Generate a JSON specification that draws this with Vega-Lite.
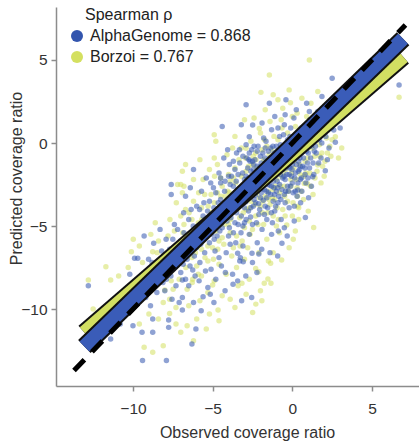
{
  "$schema": "https://vega.github.io/schema/vega-lite/v6.json",
  "width": 363,
  "height": 379,
  "autosize": "none",
  "padding": {"left": 56, "top": 7, "right": 0, "bottom": 58},
  "title": {
    "text": "Spearman ρ",
    "anchor": "start",
    "frame": "group",
    "orient": "top",
    "offset": 0,
    "baseline": "top",
    "dx": 29,
    "dy": 20.5,
    "font": "Liberation Sans",
    "fontSize": 16,
    "fontWeight": "normal",
    "color": "#222222"
  },
  "config": {
    "view": {"stroke": null},
    "font": "Liberation Sans",
    "axis": {
      "grid": false,
      "domainColor": "#8c8c8c",
      "domainWidth": 1.5,
      "tickColor": "#8c8c8c",
      "tickWidth": 1.5,
      "tickSize": 5,
      "labelFont": "Liberation Sans",
      "labelFontSize": 15.5,
      "labelColor": "#333333",
      "titleFont": "Liberation Sans",
      "titleFontSize": 16,
      "titleFontWeight": "normal",
      "titleColor": "#333333"
    }
  },
  "layer": [
    {
      "data": {
        "values": "model,x,y\nB,-4.9,0.5\nB,-4.8,0.1\nB,-4.9,-0.9\nB,-6.7,-1.3\nB,-6.9,-1.7\nB,-7.2,-2.5\nB,-7.0,-2.5\nB,-6.9,-3.0\nB,1.07,5.0\nB,-1.44,4.1\nB,6.7,2.75\nB,-1.97,3.05\nB,-0.12,2.43\nB,1.6,3.1\nB,1.17,2.4\nB,2.7,0.38\nB,1.6,-1.33\nB,0.75,-2.43\nB,0.95,-2.45\nB,-2.9,-0.32\nB,-2.07,0.88\nB,0.34,-3.8\nB,1.34,-5.08\nB,0.19,-5.3\nB,0.06,-5.8\nB,-0.35,-4.94\nB,-0.67,-7.05\nB,-1.5,-7.1\nB,-1.36,-7.24\nB,-2.3,-7.55\nB,-2.1,-7.75\nB,-1.53,-8.19\nB,-1.76,-8.45\nB,-1.34,-8.45\nB,-3.16,-8.45\nB,-1.91,-9.5\nB,-2.29,-9.7\nB,-2.49,-10.2\nB,-9.98,-5.8\nB,-10.1,-6.55\nB,-8.76,-6.55\nB,-11.7,-7.45\nB,-12.8,-8.25\nB,-11.4,-8.25\nB,-12.5,-10.0\nB,-9.3,-12.3\nB,-8.76,-12.6\nB,-8.1,-12.2\nB,-6.2,-11.9\nB,-7.0,-11.4\nB,-7.7,-10.26\nB,-4.66,-10.05\nB,-4.6,-10.7\nB,-5.8,-9.5\nB,-7.7,-9.4\nB,-5.3,-9.0\nB,-5.0,-8.55\nB,-8.0,-8.85\nB,-7.7,-7.65\nB,-6.25,-8.2\nB,-5.7,-8.0\nB,-8.7,-7.9\nB,-8.4,-5.9\nB,-8.1,-9.6\nB,-7.9,-6.8\nB,-7.6,-8.3\nB,-7.4,-5.3\nB,-7.2,-7.2\nB,-7.0,-4.4\nB,-8.6,-4.8\nB,-7.3,-9.9\nB,-6.9,-6.1\nB,-6.7,-4.0\nB,-6.6,-8.8\nB,-6.4,-5.5\nB,-6.2,-3.5\nB,-6.0,-7.4\nB,-5.9,-4.8\nB,-5.7,-6.4\nB,-5.5,-3.1\nB,-5.4,-5.6\nB,-5.3,-7.1\nB,-5.1,-4.2\nB,-6.8,-2.6\nB,-6.3,-6.9\nB,-5.6,-2.2\nB,-5.0,-6.3\nB,-6.5,-9.8\nB,-5.2,-1.6\nB,-4.9,-3.6\nB,-4.8,-5.3\nB,-4.7,-1.3\nB,-4.6,-7.3\nB,-4.5,-4.4\nB,-4.4,-2.6\nB,-4.3,-6.1\nB,-4.2,-3.2\nB,-4.1,-0.7\nB,-4.0,-4.9\nB,-3.9,-2.3\nB,-3.8,-6.8\nB,-3.7,-3.8\nB,-3.6,-1.5\nB,-3.5,-5.6\nB,-3.4,-2.9\nB,-3.3,-4.5\nB,-3.2,-0.3\nB,-3.1,-3.3\nB,-3.0,-5.1\nB,-4.7,-3.0\nB,-4.4,-5.7\nB,-4.0,-1.9\nB,-3.8,-4.1\nB,-3.5,-7.5\nB,-3.2,-2.0\nB,-4.9,-8.3\nB,-3.6,0.4\nB,-2.9,-1.7\nB,-2.9,-4.0\nB,-2.8,-6.3\nB,-2.7,-2.6\nB,-2.6,0.1\nB,-2.6,-3.5\nB,-2.5,-1.3\nB,-2.5,-5.2\nB,-2.4,-2.2\nB,-2.3,-4.4\nB,-2.3,-0.6\nB,-2.2,-3.0\nB,-2.1,-6.6\nB,-2.1,-1.8\nB,-2.0,-3.8\nB,-2.0,0.6\nB,-1.9,-2.5\nB,-1.8,-4.9\nB,-1.8,-1.0\nB,-1.7,-3.2\nB,-1.6,-0.2\nB,-1.6,-5.8\nB,-1.5,-2.0\nB,-1.4,-3.7\nB,-1.4,1.3\nB,-1.3,-1.4\nB,-1.2,-2.8\nB,-1.2,-4.4\nB,-1.1,-0.7\nB,-1.0,-2.2\nB,-1.0,-5.0\nB,-2.7,-4.7\nB,-2.2,-2.1\nB,-1.9,-0.4\nB,-1.5,-2.9\nB,-1.1,-3.4\nB,-2.4,1.5\nB,-1.7,2.0\nB,-0.9,-1.3\nB,-0.9,0.2\nB,-0.8,-3.0\nB,-0.7,-2.0\nB,-0.7,1.4\nB,-0.6,-4.0\nB,-0.5,-0.5\nB,-0.5,-2.6\nB,-0.4,-1.6\nB,-0.3,0.6\nB,-0.3,-3.5\nB,-0.2,-1.0\nB,-0.1,-2.2\nB,0.0,-0.2\nB,0.0,-4.4\nB,0.1,-1.5\nB,0.2,1.0\nB,0.3,-2.7\nB,0.4,-0.7\nB,0.5,-1.9\nB,0.6,0.4\nB,0.7,-3.4\nB,0.8,-1.1\nB,0.9,1.6\nB,1.0,-0.3\nB,-0.6,2.1\nB,0.4,-3.9\nB,-0.2,-6.3\nB,1.1,-1.8\nB,1.2,0.6\nB,1.4,-0.8\nB,1.5,1.3\nB,1.7,-0.1\nB,1.9,-1.4\nB,2.0,0.9\nB,2.2,-0.6\nB,2.5,0.2\nB,2.6,1.7\nB,1.3,-3.1\nB,2.9,-0.9\nB,1.8,-2.4\nB,3.1,-0.3\nB,-3.95,-3.0\nB,-3.75,-0.3\nB,-3.55,-2.4\nB,-3.45,-4.0\nB,-3.35,-1.0\nB,-3.15,-5.9\nB,-3.05,-2.5\nB,-2.95,-0.9\nB,-2.85,-3.3\nB,-2.75,-1.4\nB,-2.65,-5.5\nB,-2.55,-2.9\nB,-2.45,-0.8\nB,-2.35,-3.7\nB,-2.25,-1.5\nB,-2.15,-4.9\nB,-2.05,-2.7\nB,-1.95,-1.6\nB,-1.85,-3.5\nB,-1.75,0.2\nB,-1.65,-2.4\nB,-1.55,-4.2\nB,-1.45,-0.7\nB,-1.35,-2.2\nB,-1.25,-3.3\nB,-1.15,0.4\nB,-1.05,-1.4\nB,-0.95,-3.9\nB,-0.85,-0.6\nB,-0.75,-2.6\nB,-0.65,0.9\nB,-0.55,-1.8\nB,-0.45,-4.4\nB,-0.35,-1.2\nB,-0.25,-2.9\nB,-0.15,0.1\nB,-0.05,-1.8\nB,0.05,-3.6\nB,0.15,-0.7\nB,0.25,-2.2\nB,0.35,0.5\nB,0.45,-1.3\nB,0.55,-2.9\nB,0.65,-0.4\nB,0.75,0.8\nB,0.85,-1.8\nB,0.95,-0.9\nB,1.05,1.2\nB,1.15,-2.6\nB,1.25,-0.3\nB,1.35,0.8\nB,1.55,-1.7\nB,1.65,0.4\nB,1.85,-0.6\nB,2.05,-1.1\nB,2.15,0.3\nB,2.35,-0.2\nB,0.3,1.8\nB,-0.9,2.6\nB,-0.2,3.2\nB,0.6,2.7\nB,2.2,1.6\nB,-7.8,-5.6\nB,-7.5,-7.0\nB,-7.1,-8.2\nB,-6.8,-4.9\nB,-6.5,-6.6\nB,-6.3,-4.6\nB,-6.1,-5.8\nB,-5.9,-7.9\nB,-5.7,-3.9\nB,-5.5,-5.0\nB,-5.3,-6.2\nB,-5.1,-3.1\nB,-4.95,-7.0\nB,-4.85,-4.6\nB,-4.6,-5.9\nB,-4.5,-2.1\nB,-4.3,-4.0\nB,-4.15,-7.9\nB,-4.05,-2.9\nB,-3.9,-5.4\nB,-3.7,-6.3\nB,-8.3,-7.0\nB,-8.9,-8.6\nB,-9.4,-7.2\nB,-9.0,-10.3\nB,-10.6,-9.2\nB,-6.0,-10.6\nB,-5.4,-11.2\nB,-3.9,-9.4\nB,-3.4,-8.6\nB,-3.0,-7.0\nB,-2.7,-8.2\nB,-2.88,-2.2\nB,-2.68,-3.9\nB,-2.48,-2.5\nB,-2.28,-1.0\nB,-2.08,-3.3\nB,-1.88,-4.2\nB,-1.68,-1.3\nB,-1.48,-3.4\nB,-1.28,-0.4\nB,-1.08,-2.6\nB,-0.88,-4.6\nB,-0.68,-1.1\nB,-0.48,-3.2\nB,-0.28,-0.2\nB,-0.08,-2.6\nB,0.12,-1.1\nB,0.32,-3.2\nB,0.52,0.1\nB,0.72,-2.0\nB,0.92,-0.1\nB,1.12,0.2\nB,1.42,-2.1\nB,1.72,-0.8\nB,1.92,0.6\nB,2.42,-0.8\nB,-3.88,-4.6\nB,-3.68,-2.1\nB,-3.48,-3.2\nB,-3.28,-6.2\nB,-3.08,-4.2\nB,-4.28,-4.9\nB,-4.48,-3.2\nB,-4.68,-6.4\nB,-4.88,-2.0\nB,-5.08,-5.2\nB,-5.28,-3.8\nB,-5.48,-6.9\nB,-5.68,-4.6\nB,-5.88,-3.0\nB,-6.08,-6.6\nB,-6.28,-8.4\nB,-6.48,-4.2\nB,-6.68,-7.5\nB,-6.88,-5.4\nB,-7.08,-6.5\nB,-7.28,-3.6\nB,-7.48,-8.8\nB,-7.68,-4.6\nB,-8.08,-7.6\nB,-8.48,-6.6\nB,-8.88,-5.5\nB,-9.2,-8.0\nB,-9.6,-6.2\nB,-10.3,-7.5\nB,-10.9,-8.0\nB,-11.2,-9.6\nB,-9.6,-10.9\nB,-8.4,-10.6\nB,-7.3,-10.9\nB,-6.6,-11.0\nB,-5.2,-10.3\nB,-4.4,-9.2\nB,-3.6,-9.9\nB,-2.9,-9.1\nB,-2.0,-8.9\nB,-1.2,-6.6\nB,-0.8,-5.4\nB,0.4,-4.6\nB,1.0,-4.1\nB,2.0,-2.0\nB,-3.0,1.4\nB,-1.2,2.9\nB,0.0,1.6\nB,-5.8,-1.0\nB,-6.2,-2.2\nA,-7.6,-2.5\nA,-7.6,-3.1\nA,-6.2,-1.6\nA,-4.06,-0.4\nA,2.5,3.9\nA,6.7,3.5\nA,-1.44,2.4\nA,1.86,2.8\nA,1.07,1.9\nA,2.7,0.04\nA,2.6,0.78\nA,2.07,-1.67\nA,1.28,-2.03\nA,0.34,-2.83\nA,-2.7,0.38\nA,-2.49,1.08\nA,0.13,-3.8\nA,0.82,-4.48\nA,-0.65,-6.04\nA,-0.88,-5.3\nA,-2.1,-6.68\nA,-2.53,-6.64\nA,-3.43,-8.3\nA,-2.55,-9.3\nA,-3.18,-9.5\nA,-3.08,-7.15\nA,-3.26,-6.9\nA,-3.43,-6.64\nA,-8.7,-6.04\nA,-9.9,-6.94\nA,-9.7,-6.94\nA,-12.8,-8.6\nA,-10.0,-11.0\nA,-9.43,-11.4\nA,-8.76,-11.4\nA,-11.4,-11.8\nA,-9.4,-13.1\nA,-7.9,-13.1\nA,-6.3,-12.1\nA,-7.76,-11.1\nA,-8.76,-10.6\nA,-6.9,-10.05\nA,-7.76,-10.66\nA,-6.05,-11.2\nA,-6.2,-9.6\nA,-6.9,-9.3\nA,-7.1,-9.6\nA,-5.6,-9.25\nA,-4.8,-8.2\nA,-6.5,-8.6\nA,-7.9,-8.2\nA,-6.9,-8.25\nA,-6.25,-7.65\nA,-5.4,-2.1\nA,-4.5,-2.1\nA,-3.95,-1.3\nA,-8.8,-7.2\nA,-8.5,-9.0\nA,-8.2,-6.5\nA,-8.0,-8.9\nA,-7.8,-7.4\nA,-7.5,-5.8\nA,-7.3,-8.6\nA,-7.1,-6.9\nA,-8.9,-9.8\nA,-7.4,-4.9\nA,-8.3,-5.2\nA,-7.0,-7.8\nA,-6.8,-5.4\nA,-6.6,-7.0\nA,-6.5,-4.6\nA,-6.3,-6.2\nA,-6.1,-8.0\nA,-6.0,-3.8\nA,-5.9,-5.9\nA,-5.8,-7.2\nA,-5.6,-4.4\nA,-5.5,-6.6\nA,-5.4,-5.2\nA,-5.3,-8.7\nA,-5.2,-3.5\nA,-5.1,-7.6\nA,-5.0,-4.9\nA,-6.7,-3.2\nA,-6.4,-2.7\nA,-5.7,-2.9\nA,-5.2,-6.0\nA,-6.9,-6.3\nA,-4.9,-5.8\nA,-4.8,-3.0\nA,-4.7,-4.3\nA,-4.6,-6.9\nA,-4.5,-2.4\nA,-4.4,-5.1\nA,-4.3,-3.7\nA,-4.2,-7.8\nA,-4.1,-4.7\nA,-4.0,-2.0\nA,-3.9,-6.1\nA,-3.8,-3.3\nA,-3.7,-5.4\nA,-3.6,-1.6\nA,-3.5,-4.2\nA,-3.4,-2.8\nA,-3.3,-7.1\nA,-3.2,-3.6\nA,-3.1,-5.0\nA,-3.0,-2.2\nA,-4.6,-1.8\nA,-4.3,-0.9\nA,-3.9,-3.9\nA,-3.6,-4.8\nA,-3.3,-1.2\nA,-4.8,-4.9\nA,-4.5,-3.4\nA,-3.7,-2.6\nA,-3.1,-6.2\nA,-3.5,-0.6\nA,-4.0,-5.6\nA,-3.2,-4.4\nA,-2.9,-4.6\nA,-2.8,-1.5\nA,-2.8,-3.2\nA,-2.7,-0.6\nA,-2.7,-5.5\nA,-2.6,-2.4\nA,-2.6,-3.9\nA,-2.5,-1.1\nA,-2.5,-4.9\nA,-2.4,-2.9\nA,-2.4,-0.2\nA,-2.3,-2.0\nA,-2.3,-3.6\nA,-2.2,-6.0\nA,-2.2,-1.4\nA,-2.1,-2.7\nA,-2.1,-4.3\nA,-2.0,-0.8\nA,-2.0,-3.3\nA,-1.9,-1.9\nA,-1.9,-5.2\nA,-1.8,-2.5\nA,-1.8,0.3\nA,-1.7,-3.8\nA,-1.7,-1.2\nA,-1.6,-2.2\nA,-1.6,-4.6\nA,-1.5,-0.5\nA,-1.5,-3.0\nA,-1.4,-1.6\nA,-1.4,-6.6\nA,-1.3,-2.6\nA,-1.3,0.8\nA,-1.2,-3.5\nA,-1.2,-1.0\nA,-1.1,-2.0\nA,-1.1,-4.1\nA,-1.0,-0.2\nA,-1.0,-2.9\nA,-2.9,-2.0\nA,-2.6,-1.7\nA,-2.4,-3.4\nA,-2.2,-0.5\nA,-2.0,-2.3\nA,-1.8,-1.5\nA,-1.6,-3.3\nA,-1.4,-0.9\nA,-1.2,-2.3\nA,-1.9,1.2\nA,-2.5,-7.2\nA,-1.3,-5.5\nA,-2.9,-0.1\nA,-1.7,-0.3\nA,-1.1,-1.4\nA,-0.9,-1.7\nA,-0.9,-3.6\nA,-0.8,0.4\nA,-0.8,-2.5\nA,-0.7,-1.1\nA,-0.7,-4.6\nA,-0.6,-0.3\nA,-0.6,-2.1\nA,-0.5,-3.1\nA,-0.5,1.1\nA,-0.4,-1.5\nA,-0.4,-0.6\nA,-0.3,-2.6\nA,-0.3,0.2\nA,-0.2,-1.9\nA,-0.2,-3.9\nA,-0.1,-0.9\nA,-0.1,0.9\nA,0.0,-1.3\nA,0.0,-2.4\nA,0.1,-0.3\nA,0.1,1.5\nA,0.2,-1.8\nA,0.3,-0.8\nA,0.3,-3.2\nA,0.4,0.5\nA,0.5,-1.4\nA,0.5,-2.2\nA,0.6,-0.1\nA,0.7,1.0\nA,0.7,-0.9\nA,0.8,-1.9\nA,0.9,0.3\nA,1.0,-0.6\nA,-0.8,-0.8\nA,-0.6,-1.6\nA,-0.3,-1.1\nA,0.2,-0.5\nA,0.4,-1.1\nA,-0.9,0.9\nA,0.6,-2.9\nA,-0.5,-5.1\nA,1.1,1.4\nA,1.2,-0.2\nA,1.3,-1.2\nA,1.4,0.7\nA,1.5,-0.6\nA,1.6,1.9\nA,1.7,0.2\nA,1.8,-0.9\nA,2.0,1.2\nA,2.1,0.4\nA,2.3,-0.3\nA,2.4,2.0\nA,1.9,1.6\nA,2.8,1.5\nA,3.0,0.9\nA,1.2,-2.6\nA,3.3,1.8\nA,-3.9,-2.5\nA,-3.7,-1.1\nA,-3.6,-3.1\nA,-3.4,-4.9\nA,-3.4,-1.9\nA,-3.2,-2.7\nA,-3.1,-0.8\nA,-3.0,-3.9\nA,-3.0,-4.8\nA,-2.95,-2.9\nA,-2.85,-0.9\nA,-2.75,-2.1\nA,-2.75,-4.1\nA,-2.65,-1.1\nA,-2.65,-3.0\nA,-2.55,-2.1\nA,-2.55,-0.4\nA,-2.45,-1.6\nA,-2.45,-3.8\nA,-2.35,-2.5\nA,-2.35,-1.0\nA,-2.25,-2.9\nA,-2.25,-4.8\nA,-2.15,-0.2\nA,-2.15,-1.9\nA,-2.05,-2.6\nA,-2.05,-4.0\nA,-1.95,-1.2\nA,-1.95,-3.0\nA,-1.85,-0.6\nA,-1.85,-2.0\nA,-1.75,-2.8\nA,-1.75,-4.3\nA,-1.65,-1.7\nA,-1.65,0.1\nA,-1.55,-2.5\nA,-1.55,-3.9\nA,-1.45,-1.2\nA,-1.45,-2.1\nA,-1.35,-0.3\nA,-1.35,-3.1\nA,-1.25,-1.8\nA,-1.25,-4.8\nA,-1.15,-0.6\nA,-1.15,-2.7\nA,-1.05,-1.7\nA,-1.05,-3.8\nA,-0.95,-0.5\nA,-0.95,-2.3\nA,-0.85,-1.3\nA,-0.85,-3.2\nA,-0.75,-0.1\nA,-0.75,-1.9\nA,-0.65,-2.8\nA,-0.65,-0.8\nA,-0.55,-1.2\nA,-0.55,0.5\nA,-0.45,-2.2\nA,-0.45,-3.6\nA,-0.35,-0.9\nA,-0.35,-1.9\nA,-0.25,-0.4\nA,-0.25,-2.9\nA,-0.15,-1.5\nA,-0.15,0.4\nA,-0.05,-2.0\nA,-0.05,-0.6\nA,0.05,-1.0\nA,0.05,-3.0\nA,0.15,0.1\nA,0.15,-2.1\nA,0.25,-1.3\nA,0.35,-0.2\nA,0.35,-2.4\nA,0.45,-1.6\nA,0.55,-0.6\nA,0.55,0.9\nA,0.65,-1.4\nA,0.75,-0.3\nA,0.85,-2.4\nA,0.95,-1.2\nA,1.05,0.6\nA,1.15,-0.9\nA,1.25,0.3\nA,1.35,-1.9\nA,1.45,-0.2\nA,1.55,0.9\nA,1.65,-1.2\nA,1.75,1.1\nA,1.85,0.0\nA,0.25,2.0\nA,-0.45,1.7\nA,-1.1,1.6\nA,-7.7,-6.4\nA,-7.2,-5.2\nA,-6.85,-7.3\nA,-6.55,-5.9\nA,-6.35,-4.0\nA,-6.15,-6.8\nA,-5.95,-5.1\nA,-5.75,-6.1\nA,-5.55,-3.6\nA,-5.45,-7.7\nA,-5.25,-4.6\nA,-5.05,-5.5\nA,-4.95,-2.7\nA,-4.85,-6.5\nA,-4.65,-3.6\nA,-4.55,-5.3\nA,-4.35,-4.3\nA,-4.25,-2.9\nA,-4.15,-6.6\nA,-4.05,-3.4\nA,-3.95,-5.1\nA,-3.85,-4.5\nA,-8.1,-7.7\nA,-7.55,-9.4\nA,-6.7,-8.2\nA,-5.85,-8.3\nA,-5.15,-9.1\nA,-4.45,-7.4\nA,-3.75,-7.9\nA,-3.55,-6.0\nA,-9.1,-8.1\nA,-8.6,-8.3\nA,-9.3,-5.6\nA,-10.4,-8.8\nA,-11.9,-10.2\nA,-10.8,-10.9\nA,-2.92,-3.55\nA,-2.82,-2.45\nA,-2.72,-1.0\nA,-2.62,-4.45\nA,-2.52,-2.65\nA,-2.42,-1.3\nA,-2.32,-3.15\nA,-2.22,-2.35\nA,-2.12,-3.65\nA,-2.02,-1.45\nA,-1.92,-2.75\nA,-1.82,-3.45\nA,-1.72,-0.9\nA,-1.62,-2.9\nA,-1.52,-1.5\nA,-1.42,-2.55\nA,-1.32,-4.2\nA,-1.22,-0.2\nA,-1.12,-3.1\nA,-1.02,-1.2\nA,-0.92,-2.7\nA,-0.82,-1.6\nA,-0.72,-3.4\nA,-0.62,-0.5\nA,-0.52,-2.0\nA,-0.42,-2.9\nA,-0.32,-0.2\nA,-0.22,-1.4\nA,-0.12,-2.6\nA,-0.02,-1.6\nA,0.08,-0.8\nA,0.18,-2.9\nA,0.28,0.4\nA,0.38,-1.7\nA,0.48,-0.9\nA,0.58,-2.1\nA,0.68,0.3\nA,0.78,-1.5\nA,0.88,-0.5\nA,0.98,-2.1\nA,1.08,-1.5\nA,1.18,0.9\nA,1.38,-0.5\nA,1.58,0.3\nA,2.2,-1.0\nA,2.45,0.9\nA,-3.82,-2.0\nA,-3.62,-3.9\nA,-3.52,-2.3\nA,-3.42,-3.4\nA,-3.32,-0.4\nA,-3.22,-5.4\nA,-3.12,-1.8\nA,-3.02,-3.3\nA,-4.42,-4.8\nA,-4.22,-2.3\nA,-4.02,-4.2\nA,-4.72,-5.6\nA,-4.92,-3.9\nA,-5.12,-2.4\nA,-5.32,-4.1\nA,-5.62,-5.3\nA,-5.82,-4.0\nA,-6.02,-6.3\nA,-6.22,-5.0\nA,-6.42,-7.4\nA,-6.62,-6.0\nA,-6.82,-4.2\nA,-7.02,-5.9\nA,-7.22,-7.3\nA,-7.42,-6.5\nA,-7.62,-8.0\nA,-7.92,-5.8\nA,-8.12,-8.4\nA,-8.42,-7.6\nA,-8.72,-8.7\nA,-9.02,-7.0\nA,-9.2,-9.3\nA,-9.6,-8.4\nA,-10.2,-7.9\nA,-5.72,-10.1\nA,-4.92,-9.6\nA,-4.22,-8.9\nA,-3.72,-8.5\nA,-2.92,-8.0\nA,-2.22,-7.8\nA,-1.92,-6.4\nA,-0.92,-6.8\nA,-0.32,-5.6\nA,0.12,-4.7\nA,0.52,-3.6\nA,1.02,-3.3\nA,-3.2,1.1\nA,-4.4,1.0\nA,-2.9,2.3\nA,-0.4,2.6\nA,0.9,2.4",
        "format": {"type": "csv"}
      },
      "mark": {"type": "circle", "size": 30, "opacity": 0.55},
      "encoding": {
        "x": {
          "field": "x", "type": "quantitative",
          "scale": {"domain": [-14.83, 7.95], "nice": false, "zero": false},
          "axis": {
            "values": [-10, -5, 0, 5],
            "title": "Observed coverage ratio",
            "labelPadding": 10,
            "titleX": 191, "titleY": 51, "titleBaseline": "alphabetic", "titleAlign": "center"
          }
        },
        "y": {
          "field": "y", "type": "quantitative",
          "scale": {"domain": [-14.63, 8.19], "nice": false, "zero": false},
          "axis": {
            "values": [-10, -5, 0, 5],
            "title": "Predicted coverage ratio",
            "labelPadding": 4,
            "titleX": -40, "titleY": 171, "titleBaseline": "middle", "titleAlign": "center", "titleAngle": -90
          }
        },
        "color": {
          "field": "model", "type": "nominal",
          "scale": {"domain": ["A", "B"], "range": ["#3355ae", "#d4e060"]},
          "legend": {
            "orient": "none",
            "legendX": 13,
            "legendY": 21,
            "direction": "vertical",
            "title": null,
            "labelFont": "Liberation Sans",
            "labelFontSize": 16,
            "labelColor": "#222222",
            "labelLimit": 400,
            "labelExpr": "datum.value == 'A' ? 'AlphaGenome = 0.868' : 'Borzoi = 0.767'",
            "symbolType": "circle",
            "symbolSize": 144,
            "symbolOpacity": 1,
            "symbolStrokeWidth": 0,
            "symbolOffset": 0,
            "labelOffset": 5,
            "rowPadding": 5,
            "padding": 0
          }
        }
      }
    },
    {
      "data": {"values": [{"model": "Borzoi", "x": -13.05, "y": -11.41}, {"model": "Borzoi", "x": 6.95, "y": 5.2}]},
      "mark": {"type": "line", "color": "#111111", "strokeWidth": 18, "strokeCap": "butt"},
      "encoding": {"x": {"field": "x", "type": "quantitative"}, "y": {"field": "y", "type": "quantitative"}}
    },
    {
      "data": {"values": [{"model": "Borzoi", "x": -13.05, "y": -11.41}, {"model": "Borzoi", "x": 6.95, "y": 5.2}]},
      "mark": {"type": "line", "color": "#d2df62", "strokeWidth": 14, "strokeCap": "butt"},
      "encoding": {"x": {"field": "x", "type": "quantitative"}, "y": {"field": "y", "type": "quantitative"}}
    },
    {
      "data": {"values": [{"model": "AlphaGenome", "x": -13.05, "y": -12.25}, {"model": "AlphaGenome", "x": 6.95, "y": 6.28}]},
      "mark": {"type": "line", "color": "#111111", "strokeWidth": 18, "strokeCap": "butt"},
      "encoding": {"x": {"field": "x", "type": "quantitative"}, "y": {"field": "y", "type": "quantitative"}}
    },
    {
      "data": {"values": [{"model": "AlphaGenome", "x": -13.05, "y": -12.25}, {"model": "AlphaGenome", "x": 6.95, "y": 6.28}]},
      "mark": {"type": "line", "color": "#3a5cb8", "strokeWidth": 14, "strokeCap": "butt"},
      "encoding": {"x": {"field": "x", "type": "quantitative"}, "y": {"field": "y", "type": "quantitative"}}
    },
    {
      "data": {"values": [{"x": -13.7, "y": -13.7}, {"x": 7.1, "y": 7.1}]},
      "mark": {"type": "line", "color": "#000000", "strokeWidth": 5, "strokeDash": [15, 11], "strokeCap": "butt"},
      "encoding": {"x": {"field": "x", "type": "quantitative"}, "y": {"field": "y", "type": "quantitative"}}
    }
  ]
}
